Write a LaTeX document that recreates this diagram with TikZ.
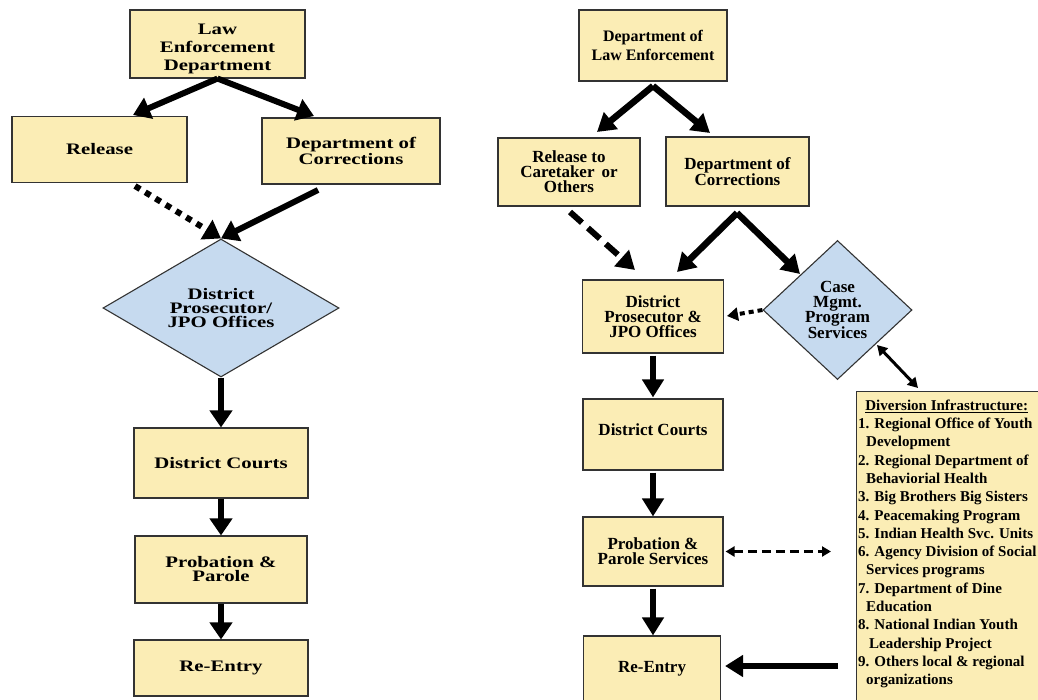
\documentclass[tikz,border=0pt]{standalone}
\usepackage{fontspec}
\setmainfont{Liberation Serif}
\newfontfamily\widefont[FakeStretch=1.3]{Liberation Serif}
\usetikzlibrary{arrows.meta,shapes.geometric}
\definecolor{boxy}{HTML}{FBEDB5}
\definecolor{diablue}{HTML}{C6DAEF}
\definecolor{edge}{HTML}{333333}
\tikzset{
  lbox/.style={rectangle, draw=edge, fill=boxy, line width=1.1pt, inner sep=0pt, align=center,
    font=\widefont\bfseries\fontsize{16}{14}\selectfont},
  rbox/.style={rectangle, draw=edge, fill=boxy, line width=1.1pt, inner sep=0pt, align=center,
    font=\bfseries\fontsize{17}{15}\selectfont},
  dia/.style={diamond, draw=edge, fill=diablue, line width=1.1pt, inner sep=0pt, align=center},
  flow/.style={line width=6pt, -{Triangle[length=17pt,width=22pt]}},
  flowr/.style={line width=6.5pt, -{Triangle[length=18pt,width=21pt]}},
  dotline/.style={line width=6pt, dash pattern=on 6pt off 6pt, -{Triangle[length=17pt,width=22pt]}},
  dashline/.style={line width=6pt, dash pattern=on 16pt off 8pt, -{Triangle[length=18pt,width=21pt]}},
  smalldot/.style={line width=4pt, dash pattern=on 5pt off 4pt, -{Triangle[length=11pt,width=13pt]}},
  twoway/.style={line width=3pt, {Triangle[length=10pt,width=11pt]}-{Triangle[length=10pt,width=11pt]}},
  twowaydash/.style={line width=2.5pt, dash pattern=on 9pt off 5pt, {Triangle[length=9pt,width=10pt]}-{Triangle[length=9pt,width=10pt]}},
}
\begin{document}
\begin{tikzpicture}[x=1pt,y=-1pt]
\useasboundingbox (0,0) rectangle (1038,700);
\fill[white] (0,0) rectangle (1038,700);
\begin{scope}
\clip (0,0) rectangle (1038,700);

% ---------- left chart ----------
\node[lbox, minimum width=175pt, minimum height=68pt, font=\widefont\bfseries\fontsize{16}{18}\selectfont] (le1) at (217.5,44) {\rule{0pt}{20pt}Law\\Enforcement\\Department};
\node[lbox, minimum width=175pt, minimum height=66pt] (rel1) at (99.5,149.5) {Release};
\node[lbox, minimum width=178pt, minimum height=66pt] (doc1) at (351,151) {Department of\\Corrections};
\node[dia, minimum width=236pt, minimum height=138pt, aspect=1.71,
      font=\widefont\bfseries\fontsize{16}{14}\selectfont] (dp1) at (221,308) {District\\Prosecutor/\\JPO Offices};
\node[lbox, minimum width=174pt, minimum height=70pt] (dc1) at (221,463) {District Courts};
\node[lbox, minimum width=172pt, minimum height=67pt] (pp1) at (221,569.5) {Probation \&\\Parole};
\node[lbox, minimum width=174pt, minimum height=56pt] (re1) at (221,668) {Re-Entry};

\coordinate (t1a) at (133,115);
\coordinate (t1b) at (314,116);
\coordinate (s1c) at (135,186);
\coordinate (s1d) at (318,190);
\draw[flow] (le1.south) -- (t1a);
\draw[flow] (le1.south) -- (t1b);
\draw[dotline] (s1c) -- (dp1.north);
\draw[flow] (s1d) -- (dp1.north);
\draw[flow] (dp1.south) -- (dc1.north);
\draw[flow] (dc1.south) -- (pp1.north);
\draw[flow] (pp1.south) -- (re1.north);

% ---------- right chart ----------
\node[rbox, minimum width=148pt, minimum height=71pt, font=\bfseries\fontsize{16}{19}\selectfont] (le2) at (653,45.5) {Department of\\Law Enforcement};
\node[rbox, minimum width=142pt, minimum height=68pt] (rel2) at (569,172) {Release to\\Caretaker\, or\\Others};
\node[rbox, minimum width=143pt, minimum height=69pt] (doc2) at (737.5,171.5) {Department of\\Corrections};
\node[rbox, minimum width=141pt, minimum height=73pt] (dp2) at (653,316.5) {District\\Prosecutor \&\\JPO Offices};
\node[dia, minimum width=149pt, minimum height=139pt, aspect=1.07,
      font=\bfseries\fontsize{17}{15}\selectfont] (cm2) at (837.5,310) {Case\\Mgmt.\\Program\\Services};
\node[rbox, minimum width=140pt, minimum height=71pt, text depth=10pt] (dc2) at (653,434.5) {District Courts};
\node[rbox, minimum width=140pt, minimum height=69pt] (pp2) at (653,551.5) {Probation \&\\Parole Services};
\node[rbox, minimum width=137pt, minimum height=66pt] (re2) at (652,669) {Re-Entry};
\node[rectangle, draw=edge, fill=boxy, line width=1.1pt, anchor=north west,
      minimum width=200pt, minimum height=330pt] (div) at (856,391) {};
\node[anchor=north west, inner sep=0pt, align=left,
      font=\bfseries\fontsize{15}{18.3}\selectfont] (divtext) at (858,399.5)
  {\makebox[177pt][c]{\underline{Diversion Infrastructure:}}\\
   1. Regional Office of Youth\\
   \hspace{8pt}Development\\
   2. Regional Department of\\
   \hspace{8pt}Behaviorial Health\\
   3. Big Brothers Big Sisters\\
   4. Peacemaking Program\\
   5. Indian Health Svc. Units\\
   6. Agency Division of Social\\
   \hspace{8pt}Services programs\\
   7. Department of Dine\\
   \hspace{8pt}Education\\
   8. National Indian Youth\\
   \hspace{11pt}Leadership Project\\
   9. Others local \& regional\\
   \hspace{8pt}organizations};

\coordinate (ap2) at (653,86);
\coordinate (t2a) at (597,132);
\coordinate (t2b) at (710,133);
\coordinate (s2c) at (570,212);
\coordinate (t2c) at (635,270);
\coordinate (ap3) at (737,213);
\coordinate (t3a) at (677,272);
\coordinate (t3b) at (800,274);
\coordinate (d1) at (877,345);
\coordinate (d2) at (918,388);
\coordinate (pq) at (831,551.5);
\coordinate (rs) at (838,666);

\draw[flowr] (ap2) -- (t2a);
\draw[flowr] (ap2) -- (t2b);
\draw[dashline] (s2c) -- (t2c);
\draw[flowr] (ap3) -- (t3a);
\draw[flowr] (ap3) -- (t3b);
\draw[smalldot, shorten >=3pt] (cm2.west) -- (dp2.east);
\draw[twoway] (d1) -- (d2);
\draw[flowr, shorten <=2pt, shorten >=1pt] (dp2.south) -- (dc2.north);
\draw[flowr, shorten <=2pt] (dc2.south) -- (pp2.north);
\draw[flowr, shorten <=2pt] (pp2.south) -- (pp2.south |- re2.north);
\draw[twowaydash, shorten <=2pt] (pp2.east) -- (pq);
\draw[flowr, shorten >=4pt] (rs) -- (rs -| re2.east);
\end{scope}
\end{tikzpicture}
\end{document}
